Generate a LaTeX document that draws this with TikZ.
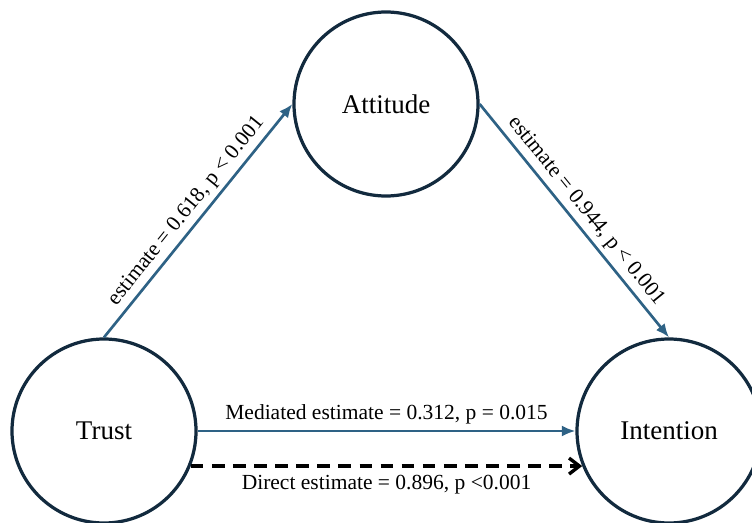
\documentclass[tikz,border=0pt]{standalone}
\usepackage{fontspec}
\setmainfont{Liberation Serif}
\usetikzlibrary{arrows.meta,positioning}
\definecolor{rimnavy}{RGB}{18,42,62}
\definecolor{pathblue}{RGB}{46,98,133}

\begin{document}
\begin{tikzpicture}
  \tikzstyle{construct}=[circle,draw=rimnavy,line width=2.3pt,fill=white,
    minimum size=4.6cm,inner sep=0pt,font=\fontsize{19.2}{22}\selectfont]
  \tikzstyle{est}=[font=\fontsize{15.3}{18}\selectfont,inner sep=3pt,text=black]
  \tikzstyle{f}=[-{Latex[length=3.4mm,width=2.8mm]},pathblue,line width=1.9pt]
  \tikzstyle{direct}=[-{Straight Barb[length=2.6mm,width=4mm]},black,
    line width=2.4pt,dash pattern=on 9pt off 6pt]

  \useasboundingbox (0,0) rectangle (18.8,-13.05);

  % -- constructs --
  \node[construct] (att) at (9.65,-2.6) {Attitude};
  \node[construct] (trust) at (2.6,-10.775) {Trust};
  \node[construct] (int) at (16.725,-10.775) {Intention};

  % -- paths via attitude --
  \draw[f] (trust.north) -- node[est,midway,above,sloped]
    {estimate = 0.618, p < 0.001} (att.west);
  \draw[f] (att.east) -- node[est,midway,above,sloped]
    {estimate = 0.944, p < 0.001} (int.north);

  % -- trust to intention --
  \draw[f] (trust.east) -- node[est,midway,above,yshift=1pt]
    {Mediated estimate = 0.312, p = 0.015} (int.west);
  \draw[direct] (trust.-22) -- node[est,midway,below,yshift=-2pt]
    {Direct estimate = 0.896, p <0.001} (int.-158);
\end{tikzpicture}
\end{document}
